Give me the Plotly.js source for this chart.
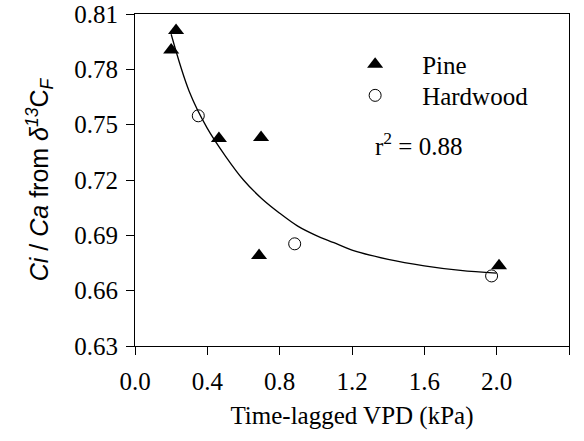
<!DOCTYPE html>
<html>
<head>
<meta charset="utf-8">
<script src="https://cdn.plot.ly/plotly-3.0.1.min.js"></script>
<style>html,body{margin:0;padding:0;background:#fff;}#chart{width:584px;height:441px;}</style>
</head>
<body>
<div id="chart"></div>
<script>
// Pine (filled triangles)
const pineX = [0.20, 0.227, 0.464, 0.697, 0.686, 2.013];
const pineY = [0.7905, 0.801, 0.7425, 0.743, 0.679, 0.6735];
// Hardwood (open circles)
const hardX = [0.35, 0.883, 1.972];
const hardY = [0.7548, 0.6854, 0.668];
// Fitted curve
const fitX = [0.2, 0.3, 0.4, 0.5, 0.6, 0.7, 0.8, 0.9, 1.0, 1.1, 1.2, 1.4, 1.6, 1.8, 2.0];
const fitY = [0.799, 0.768, 0.748, 0.733, 0.720, 0.710, 0.702, 0.695, 0.690, 0.686, 0.682, 0.677, 0.6735, 0.671, 0.6695];
// Axis ticks
const xTicks = [0.0, 0.4, 0.8, 1.2, 1.6, 2.0, 2.4];
const xTickText = ["0.0", "0.4", "0.8", "1.2", "1.6", "2.0", "2.4"];
const yTicks = [0.63, 0.66, 0.69, 0.72, 0.75, 0.78, 0.81];
const yTickText = ["0.63", "0.66", "0.69", "0.72", "0.75", "0.78", "0.81"];

const serif = "Liberation Serif, Times New Roman, serif";
const sans = "Liberation Sans, Arial, sans-serif";

const traces = [
  {x: fitX, y: fitY, mode: "lines", line: {color: "#000", width: 1.3, shape: "spline", smoothing: 1}, showlegend: false, hoverinfo: "skip"},
  {x: pineX, y: pineY, mode: "markers", name: "Pine", legend: "legend",
   marker: {symbol: "triangle-up", size: 14, color: "#000", line: {width: 0}}},
  {x: hardX, y: hardY, mode: "markers", name: "Hardwood", legend: "legend2",
   marker: {symbol: "circle-open", size: 12, color: "#000", line: {width: 1, color: "#000"}}}
];

const legendBase = {xanchor: "left", yanchor: "top", bgcolor: "rgba(0,0,0,0)",
                    font: {family: serif, size: 25, color: "#000"}, itemwidth: 84};

const layout = {
  width: 584, height: 441,
  margin: {l: 135, r: 15, t: 14, b: 95},
  paper_bgcolor: "#fff", plot_bgcolor: "#fff",
  showlegend: true,
  legend: Object.assign({x: 0.445, y: 0.917}, legendBase),
  legend2: Object.assign({x: 0.445, y: 0.8235}, legendBase),
  xaxis: {range: [0, 2.4], tickvals: xTicks, ticktext: xTickText, ticks: "outside", ticklen: 8, tickwidth: 1,
          tickcolor: "#000", showline: true, linecolor: "#000", linewidth: 1, mirror: true, showgrid: false, zeroline: false,
          ticklabelstandoff: 5,
          tickfont: {family: serif, size: 25, color: "#000"},
          title: {text: "Time-lagged VPD (kPa)", font: {family: serif, size: 25, color: "#000"}, standoff: 12}},
  yaxis: {range: [0.63, 0.81], tickvals: yTicks, ticktext: yTickText, ticks: "outside", ticklen: 8, tickwidth: 1,
          tickcolor: "#000", showline: true, linecolor: "#000", linewidth: 1, mirror: true, showgrid: false, zeroline: false,
          ticklabelstandoff: 3,
          tickfont: {family: serif, size: 25, color: "#000"},
          title: {text: "<i>Ci</i> / <i>Ca</i> from <i>δ<sup>13</sup></i>C<sub><i>F</i></sub>", font: {family: sans, size: 25, color: "#000"}, standoff: 18}},
  annotations: [
    {xref: "paper", yref: "paper", x: 0.548, y: 0.607, xanchor: "left", yanchor: "middle", showarrow: false,
     text: "r<sup>2</sup> = 0.88", font: {family: serif, size: 25, color: "#000"}}
  ]
};

Plotly.newPlot("chart", traces, layout, {staticPlot: true, displayModeBar: false});
</script>
</body>
</html>
